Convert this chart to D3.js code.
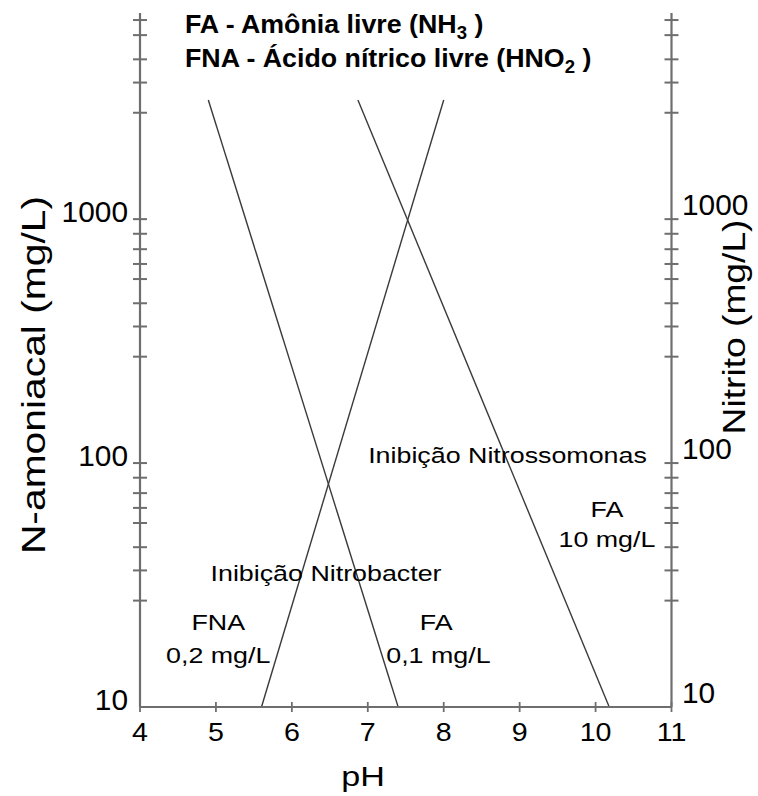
<!DOCTYPE html>
<html>
<head>
<meta charset="utf-8">
<script src="https://cdn.jsdelivr.net/npm/d3@7"></script>
<style>
  html, body { margin: 0; padding: 0; background: #fff; }
  svg { display: block; font-family: "Liberation Sans", Arial, sans-serif; }
</style>
</head>
<body>
<svg id="chart" width="758" height="796"></svg>
<script>
// ---- data ----
const xTicks = [4, 5, 6, 7, 8, 9, 10, 11];
const yMajorTicks = [10, 100, 1000];
const yMinorMultipliers = [2.73, 3.63, 4.52, 5.68, 6.55, 7.53, 8.71];
const yDecades = [10, 100, 1000];

// lines: [pH, concentration] endpoints
const lineFA01 = [[4.9, 3080], [7.4, 10]];      // FA 0,1 mg/L
const lineFA10 = [[6.87, 3080], [10.18, 10]];   // FA 10 mg/L
const lineFNA02 = [[5.6, 10], [8.0, 3080]];     // FNA 0,2 mg/L
const lines = [lineFA01, lineFA10, lineFNA02];

const labels = [
  { text: "Inibição Nitrossomonas", x: 8.84, y: 100 },
  { text: "FA", x: 10.15, y: 60 },
  { text: "10 mg/L", x: 10.15, y: 45.3 },
  { text: "Inibição Nitrobacter", x: 6.45, y: 32.8 },
  { text: "FNA", x: 5.03, y: 20.7 },
  { text: "0,2 mg/L", x: 5.03, y: 15.1 },
  { text: "FA", x: 7.9, y: 20.7 },
  { text: "0,1 mg/L", x: 7.93, y: 15.1 }
];

// ---- layout ----
const SX = 1.22; // horizontal text width factor
const svg = d3.select("#chart");
const x = d3.scaleLinear().domain([4, 11]).range([140, 671.5]);
const y = d3.scaleLog().domain([10, 7000]).range([707, 13]);

const axisColor = "#6e6e6e";
const lineColor = "#3a3a3a";

function wideText(g, tx, ty, str, opts) {
  opts = opts || {};
  const rot = opts.rotate ? ` rotate(${opts.rotate})` : "";
  return g.append("text")
    .attr("transform", `translate(${tx},${ty})${rot} scale(${opts.sx || SX},1)`)
    .attr("text-anchor", opts.anchor || "middle")
    .attr("font-size", opts.size || 22)
    .attr("font-weight", opts.weight || "normal")
    .attr("fill", "#000")
    .text(str);
}

// minor ticks
const minorTicks = [];
yDecades.forEach(d => yMinorMultipliers.forEach(m => {
  const v = d * m;
  if (v <= y.domain()[1]) minorTicks.push(v);
}));
const allYTicks = yMajorTicks.concat(minorTicks);

// data lines
const lineGen = d3.line().x(d => x(d[0])).y(d => y(d[1]));
svg.append("g").selectAll("path").data(lines).join("path")
  .attr("d", lineGen)
  .attr("fill", "none")
  .attr("stroke", lineColor)
  .attr("stroke-width", 1.4);

// axes
const axG = svg.append("g");
[x.range()[0], x.range()[1]].forEach(px => {
  axG.append("line")
    .attr("x1", px).attr("x2", px)
    .attr("y1", y.range()[0]).attr("y2", y.range()[1])
    .attr("stroke", axisColor).attr("stroke-width", 2.2);
});
axG.append("line")
  .attr("x1", x.range()[0]).attr("x2", x.range()[1])
  .attr("y1", y.range()[0]).attr("y2", y.range()[0])
  .attr("stroke", axisColor).attr("stroke-width", 2.2);

// y ticks (crossing) on both sides
[x.range()[0], x.range()[1]].forEach(px => {
  axG.append("g").selectAll("line").data(allYTicks.filter(v => v > 10)).join("line")
    .attr("x1", px - 7).attr("x2", px + 7)
    .attr("y1", d => y(d)).attr("y2", d => y(d))
    .attr("stroke", axisColor).attr("stroke-width", 2);
});
// x ticks (crossing)
axG.append("g").selectAll("line").data(xTicks).join("line")
  .attr("x1", d => x(d)).attr("x2", d => x(d))
  .attr("y1", y.range()[0] - 5).attr("y2", y.range()[0] + 5)
  .attr("stroke", axisColor).attr("stroke-width", 1.8);

// tick labels
const tl = svg.append("g");
xTicks.forEach(t => wideText(tl, x(t), 741, String(t), { size: 26, sx: 1.1 }));
yMajorTicks.forEach(t => {
  wideText(tl, 128, y(t) + 3, String(t), { size: 29, sx: 1.03, anchor: "end" });
  wideText(tl, 682, y(t) - 4, String(t), { size: 29, sx: 1.03, anchor: "start" });
});

// axis titles
wideText(svg, 45, 375, "N-amoniacal (mg/L)", { size: 34, rotate: -90, sx: 1.2 });
wideText(svg, 745, 327, "Nitrito (mg/L)", { size: 31, rotate: -90, sx: 1.2 });
wideText(svg, 363, 786, "pH", { size: 28 });

// annotations
labels.forEach(l => wideText(svg, x(l.x), y(l.y), l.text, { size: 22 }));

// legend title (bold, with subscripts)
function legendLine(ty, main, sub) {
  const t = svg.append("text")
    .attr("transform", `translate(185,${ty}) scale(1.03,1)`)
    .attr("font-size", 26).attr("font-weight", "bold").attr("fill", "#000");
  t.append("tspan").text(main);
  t.append("tspan").attr("font-size", 18).attr("dy", 6).text(sub);
  t.append("tspan").attr("dy", -6).text(" )");
}
legendLine(33, "FA - Amônia livre (NH", "3");
legendLine(67, "FNA - Ácido nítrico livre (HNO", "2");
</script>
</body>
</html>
